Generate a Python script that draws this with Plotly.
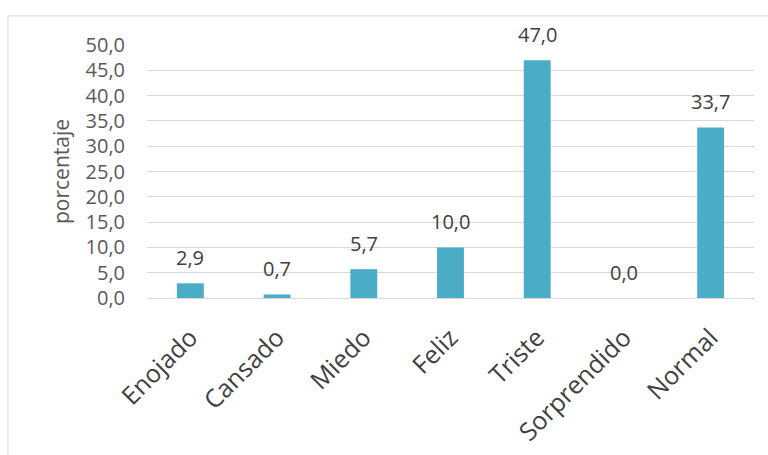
import plotly.graph_objects as go

categorias = ["Enojado", "Cansado", "Miedo", "Feliz", "Triste", "Sorprendido", "Normal"]
porcentajes = [2.9, 0.7, 5.7, 10.0, 47.0, 0.0, 33.7]
ticks_y = [0, 5, 10, 15, 20, 25, 30, 35, 40, 45, 50]

fig = go.Figure(
    go.Bar(
        x=categorias,
        y=porcentajes,
        marker=dict(color="#4BACC6", line=dict(width=0)),
        hoverinfo="skip",
    )
)

# value labels above each bar, comma as decimal separator
for cat, val in zip(categorias, porcentajes):
    fig.add_annotation(
        x=cat,
        y=val,
        text=f"{val:.1f}".replace(".", ","),
        showarrow=False,
        yanchor="bottom",
        yshift=10,
        font=dict(family="Open Sans", size=20, color="#404040"),
    )

fig.update_layout(
    width=768,
    height=455,
    margin=dict(l=147, r=14, t=45, b=157),
    paper_bgcolor="white",
    plot_bgcolor="white",
    separators=",.",
    bargap=0.69,
    showlegend=False,
    font=dict(family="Open Sans", color="#595959"),
    shapes=[
        dict(
            type="rect",
            xref="paper",
            yref="paper",
            x0=-0.229,
            x1=1.03,
            y0=-0.65,
            y1=1.115,
            line=dict(color="#d9d9d9", width=1),
            fillcolor="rgba(0,0,0,0)",
            layer="below",
        )
    ],
)

fig.update_yaxes(
    range=[0, 50],
    tickvals=ticks_y,
    tickformat=".1f",
    tickfont=dict(size=20, color="#595959"),
    ticklabelstandoff=21,
    showgrid=True,
    gridcolor="#d9d9d9",
    gridwidth=1,
    zeroline=False,
    showline=False,
    automargin=False,
    title=dict(text="porcentaje", font=dict(family="Open Sans", size=21, color="#595959"), standoff=10),
)

fig.update_xaxes(
    tickangle=-45,
    tickfont=dict(size=25, color="#404040"),
    showline=True,
    linecolor="#d9d9d9",
    linewidth=1,
    ticks="",
    ticklabelstandoff=14,
    automargin=False,
)

fig.write_html("out.html")
